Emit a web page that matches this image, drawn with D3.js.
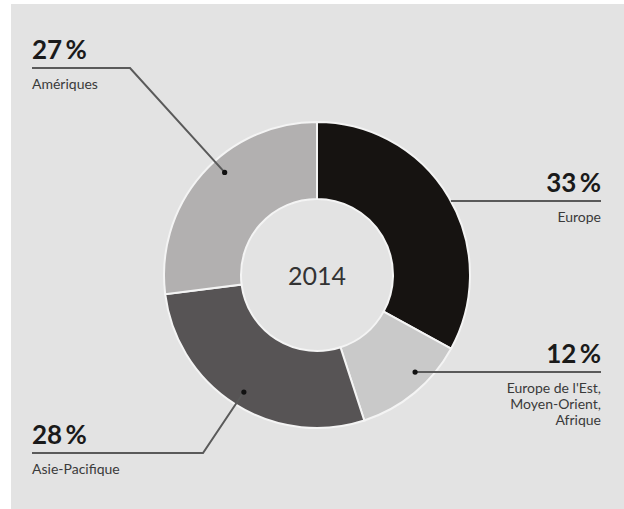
<!DOCTYPE html>
<html><head><meta charset="utf-8">
<script src="https://cdn.jsdelivr.net/npm/d3@7"></script>
<style>
body{margin:0;background:#fff;}
svg{display:block;font-family:Lato,"Open Sans",sans-serif;}
</style>
</head><body>
<svg id="c" width="624" height="509"></svg>
<script>
// ---- data ----
const regions = ["Europe", "Europe de l'Est,\nMoyen-Orient,\nAfrique", "Asie-Pacifique", "Amériques"];
const shares = [33, 12, 28, 27];
const centerLabel = "2014";

// ---- styling / layout ----
const colors = ["#161311", "#c9c9c9", "#575455", "#b2b0b0"];
const cx = 317, cy = 275, R = 153, r0 = 76, dotR = 138;
const annot = [
  {side: "right", lineY: 201, tx: 601, dotAngle: null},
  {side: "right", lineY: 372, tx: 601, dotAngle: 134.7},
  {side: "left",  lineY: 453, tx: 32, elbowX: 203, dotAngle: 212},
  {side: "left",  lineY: 68,  tx: 32, elbowX: 130, dotAngle: 318}
];

const svg = d3.select("#c");
svg.append("rect").attr("x", 11).attr("y", 4).attr("width", 613).attr("height", 505).attr("fill", "#e3e3e3");

const data = regions.map((name, i) => ({name, value: shares[i], i}));
const pie = d3.pie().value(d => d.value).sort(null);
const arc = d3.arc().innerRadius(r0).outerRadius(R);

const g = svg.append("g").attr("transform", `translate(${cx},${cy})`);
g.selectAll("path").data(pie(data)).join("path")
  .attr("d", arc)
  .attr("fill", d => colors[d.data.i])
  .attr("stroke", "#f4f4f4")
  .attr("stroke-width", 2);

g.append("text").attr("x", 0).attr("y", 10).attr("text-anchor", "middle")
  .attr("font-size", 25).attr("fill", "#333").text(centerLabel);

const toXY = (deg, rad) => {
  const a = deg * Math.PI / 180;
  return [cx + rad * Math.sin(a), cy - rad * Math.cos(a)];
};

const ann = svg.append("g");
data.forEach((d, i) => {
  const a = annot[i];
  let pts;
  if (a.side === "right") {
    if (a.dotAngle == null) {
      const dy = a.lineY - cy;
      const x0 = cx + Math.sqrt(R * R - dy * dy);
      pts = [[x0, a.lineY], [a.tx, a.lineY]];
    } else {
      const p = toXY(a.dotAngle, dotR);
      pts = [p, [a.tx, a.lineY]];
    }
  } else {
    const p = toXY(a.dotAngle, dotR);
    pts = [p, [a.elbowX, a.lineY], [a.tx, a.lineY]];
  }
  ann.append("path").attr("d", d3.line()(pts)).attr("fill", "none")
    .attr("stroke", "#5a5a5a").attr("stroke-width", 2);
  if (a.dotAngle != null) {
    ann.append("circle").attr("cx", pts[0][0]).attr("cy", pts[0][1]).attr("r", 2.6).attr("fill", "#111");
  }
  const anchor = a.side === "right" ? "end" : "start";
  ann.append("text").attr("x", a.tx).attr("y", a.lineY - 9)
    .attr("text-anchor", anchor).attr("font-size", 26).attr("font-weight", 700)
    .attr("fill", "#1a1a1a").text(d.value + "\u2009%");
  const t = ann.append("text").attr("x", a.tx).attr("y", a.lineY + 21)
    .attr("text-anchor", anchor).attr("font-size", 14).attr("fill", "#3a3a3a");
  d.name.split("\n").forEach((line, k) => {
    t.append("tspan").attr("x", a.tx).attr("dy", k === 0 ? 0 : 16).text(line);
  });
});
</script>
</body></html>
